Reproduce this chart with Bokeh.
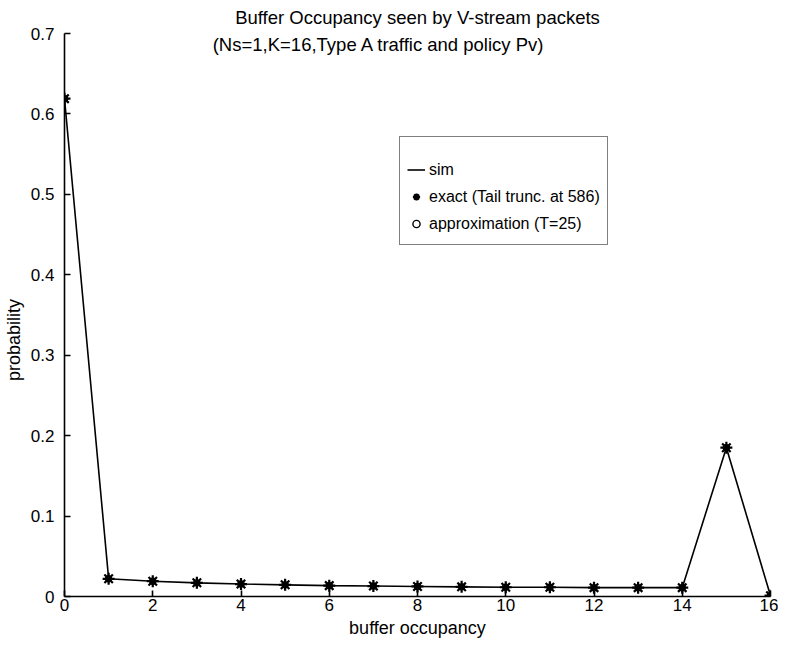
from bokeh.plotting import figure
from bokeh.models import Label, Legend, LegendItem, Range1d, FixedTicker
from bokeh.embed import file_html
from bokeh.resources import INLINE

# data
buffer_occ = list(range(17))
sim = [0.619, 0.022, 0.019, 0.017, 0.0155, 0.0145, 0.0135, 0.013, 0.0125,
       0.012, 0.0115, 0.0115, 0.011, 0.011, 0.011, 0.185, 0.001]
exact = [0.619, 0.022, 0.019, 0.017, 0.0155, 0.0145, 0.0135, 0.013, 0.0125,
         0.012, 0.0115, 0.0115, 0.011, 0.011, 0.011, 0.185, 0.001]
approx = [0.619, 0.022, 0.019, 0.017, 0.0155, 0.0145, 0.0135, 0.013, 0.0125,
          0.012, 0.0115, 0.0115, 0.011, 0.011, 0.011, 0.185, 0.001]
x_ticks = [0, 2, 4, 6, 8, 10, 12, 14, 16]
y_ticks = [0, 0.1, 0.2, 0.3, 0.4, 0.5, 0.6, 0.7]

FONT = "Liberation Sans"
NBSP = "\u00a0"

p = figure(width=778, height=640, output_backend="svg", toolbar_location=None,
           x_range=Range1d(0, 16), y_range=Range1d(0, 0.7),
           title="Buffer Occupancy seen by V-stream packets",
           min_border_left=62, min_border_right=8, min_border_top=33, min_border_bottom=44)
p.outline_line_color = None
p.grid.visible = False
p.background_fill_color = "white"

p.title.align = "center"
p.title.vertical_align = "top"
p.title.text_font = FONT
p.title.text_font_size = "18.5px"
p.title.text_font_style = "normal"
p.title.text_color = "black"
p.title.standoff = 8

for ax in (p.xaxis[0], p.yaxis[0]):
    ax.major_tick_in = 6
    ax.major_tick_out = 0
    ax.minor_tick_line_color = None
    ax.axis_line_width = 1.6
    ax.major_tick_line_width = 1.6
    ax.axis_line_color = "black"
    ax.major_tick_line_color = "black"
    ax.major_label_text_font = FONT
    ax.major_label_text_font_size = "17px"
    ax.major_label_text_color = "black"
    ax.axis_label_text_font = FONT
    ax.axis_label_text_font_size = "18px"
    ax.axis_label_text_font_style = "normal"
    ax.axis_label_text_color = "black"

p.xaxis.ticker = FixedTicker(ticks=x_ticks)
p.yaxis.ticker = FixedTicker(ticks=y_ticks)
p.yaxis.major_label_overrides = {0: "0"}
p.xaxis.major_label_standoff = 2
p.yaxis.major_label_standoff = 10
p.xaxis.axis_label = "buffer occupancy"
p.xaxis.axis_label_standoff = 4
p.yaxis.axis_label = "probability" + NBSP * 10
p.yaxis.axis_label_standoff = 4

r_sim = p.line(buffer_occ, sim, line_color="black", line_width=1.6)
r_ex = p.scatter(buffer_occ, exact, marker="asterisk", size=12, line_color="black",
                 line_width=2.2)
r_apx = p.scatter(buffer_occ, approx, marker="circle", size=6, fill_color="white",
                  fill_alpha=0, line_color="black", line_width=1.4)

legend = Legend(items=[
    LegendItem(label="sim", renderers=[r_sim]),
    LegendItem(label="exact (Tail trunc. at 586)", renderers=[r_ex]),
    LegendItem(label="approximation (T=25)", renderers=[r_apx]),
], location=(335, 351))
p.add_layout(legend)

legend.border_line_color = "black"
legend.border_line_width = 1.2
legend.background_fill_color = "white"
legend.background_fill_alpha = 1
legend.title = " "
legend.title_text_font_size = "8px"
legend.title_standoff = 3
legend.padding = 7
legend.spacing = 0
legend.margin = 0
legend.label_height = 27
legend.glyph_height = 27
legend.glyph_width = 18
legend.label_standoff = 4
legend.label_text_font = FONT
legend.label_text_font_size = "16px"
legend.label_text_color = "black"

p.add_layout(Label(x=7.13, y=0.686, text="(Ns=1,K=16,Type A traffic and policy Pv)",
                   text_align="center", text_baseline="middle", text_font=FONT,
                   text_font_size="18.5px", text_color="black"))

open("out.html", "w").write(file_html(p, INLINE))
